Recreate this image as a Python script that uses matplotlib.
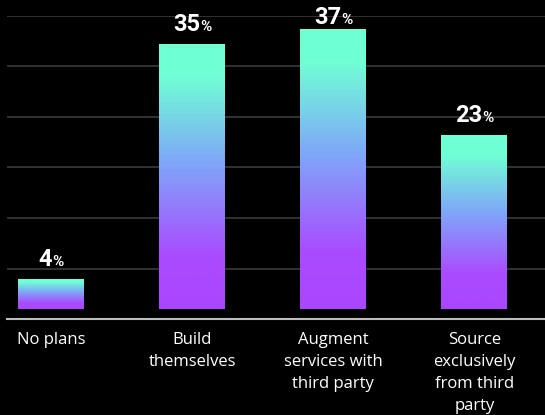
import numpy as np
import matplotlib.pyplot as plt
from matplotlib.colors import LinearSegmentedColormap
from matplotlib.offsetbox import TextArea, HPacker, AnnotationBbox

# Share of respondents by approach
categories = ['No plans', 'Build\nthemselves', 'Augment\nservices with\nthird party',
              'Source\nexclusively\nfrom third\nparty']
values = [4, 35, 37, 23]

# mint -> blue -> purple, bottom of the bar stays solid purple
grad = LinearSegmentedColormap.from_list(
    'bar_grad',
    [(0.0, '#AA46FF'), (0.2, '#AA4BFF'), (0.55, '#7FA6F9'),
     (0.88, '#70FFD5'), (1.0, '#6FFFD4')])

fig = plt.figure(figsize=(5.45, 4.15), dpi=100, facecolor='black')
ax = fig.add_axes([7 / 545, 1 - 319 / 415, 538 / 545, 303 / 415])
ax.set_facecolor('black')

x = np.arange(len(values))
ymin, ymax = -1.32, 38.7

# dark grid lines, evenly spaced over the plot height
for g in np.linspace(ymin, ymax, 7)[1:]:
    ax.axhline(g, color='#3a3a3a', lw=1.2, zorder=0)

bars = ax.bar(x, values, width=0.467, color='none', zorder=2)
gradient = np.linspace(0, 1, 256).reshape(-1, 1)
for b in bars:
    x0, w, h = b.get_x(), b.get_width(), b.get_height()
    im = ax.imshow(gradient, cmap=grad, origin='lower', aspect='auto',
                   extent=[x0, x0 + w, 0, h], zorder=2, interpolation='bilinear')
    im.set_clip_path(b)
ax.set_xlim(-0.312, 3.5)
ax.set_ylim(ymin, ymax)

# value labels: large number, small percent sign
for xi, v in zip(x, values):
    num = TextArea(str(v), textprops=dict(color='white', fontsize=17,
                                           fontweight='bold', family='Roboto'))
    pct = TextArea('%', textprops=dict(color='white', fontsize=11,
                                        fontweight='bold', family='Roboto'))
    box = HPacker(children=[num, pct], align='baseline', pad=0, sep=0)
    ty = min(v + 1.05, ymax - 1.75)
    ab = AnnotationBbox(box, (xi, ty), box_alignment=(0.5, 0), frameon=False,
                        pad=0, annotation_clip=False)
    ax.add_artist(ab)

for s in ['top', 'right', 'left']:
    ax.spines[s].set_visible(False)
ax.spines['bottom'].set_color('#bdbdbd')
ax.spines['bottom'].set_linewidth(1.5)
ax.set_yticks([])
ax.set_xticks(x)
ax.set_xticklabels(categories, color='white', fontsize=12, family='Open Sans',
                   linespacing=1.5, va='top')
ax.tick_params(axis='x', length=0, pad=9)

fig.savefig('out.png', dpi=100, facecolor='black')
